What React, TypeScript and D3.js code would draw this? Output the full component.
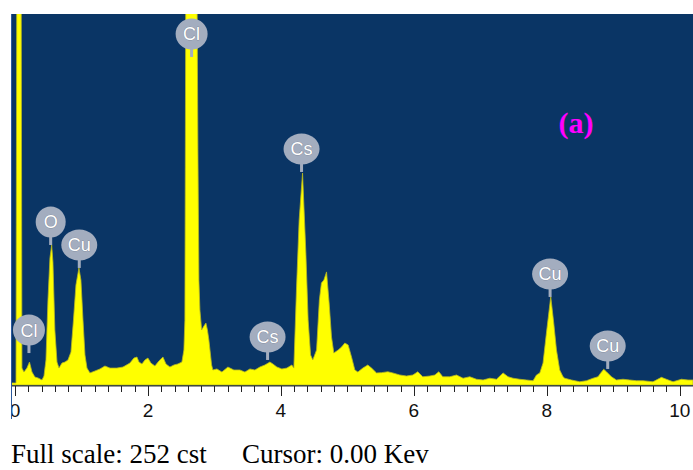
import React from "react";
import * as d3 from "d3";

// Spectrum samples (energy in keV, counts)
const energyKeV = [
  -0.06, 0.015, 0.03, 0.09, 0.105, 0.135, 0.18, 0.218, 0.256, 0.3, 0.346, 0.406, 0.436, 0.466, 0.496, 0.526, 0.552, 0.571, 0.6, 0.632,
  0.662, 0.707, 0.752, 0.797, 0.842, 0.88, 0.917, 0.962, 0.992, 1.023, 1.053, 1.083, 1.128, 1.203, 1.278, 1.353, 1.429, 1.534, 1.624, 1.729,
  1.789, 1.835, 1.865, 1.91, 1.955, 2.0, 2.045, 2.105, 2.165, 2.226, 2.271, 2.331, 2.391, 2.451, 2.511, 2.541, 2.556, 2.571, 2.6, 2.662,
  2.722, 2.737, 2.752, 2.767, 2.782, 2.808, 2.842, 2.872, 2.895, 2.917, 2.958, 2.977, 3.038, 3.113, 3.203, 3.293, 3.383, 3.459, 3.534, 3.609,
  3.684, 3.759, 3.835, 3.88, 3.94, 4.015, 4.09, 4.165, 4.195, 4.236, 4.275, 4.326, 4.376, 4.41, 4.447, 4.48, 4.537, 4.579, 4.61, 4.647,
  4.687, 4.726, 4.762, 4.797, 4.862, 4.913, 4.962, 5.012, 5.063, 5.113, 5.158, 5.233, 5.308, 5.364, 5.439, 5.514, 5.609, 5.684, 5.789, 5.89,
  5.985, 6.06, 6.135, 6.241, 6.316, 6.376, 6.436, 6.541, 6.642, 6.741, 6.842, 6.943, 7.042, 7.143, 7.244, 7.343, 7.418, 7.493, 7.594, 7.695,
  7.794, 7.845, 7.895, 7.944, 7.995, 8.06, 8.105, 8.146, 8.195, 8.245, 8.271, 8.371, 8.496, 8.597, 8.696, 8.771, 8.812, 8.857, 8.898, 8.973,
  9.048, 9.147, 9.248, 9.349, 9.448, 9.598, 9.725, 9.8, 9.9, 10.026, 10.125, 10.2,
];
const counts = [
  1.4, 1.4, 350, 350, 11.5, 8.8, 11.5, 15.6, 8.8, 5.4, 4.8, 3.4, 6.1, 17, 57.7, 86.3, 95.1, 83.6, 37.4, 15.6,
  11.5, 14.9, 15.6, 17, 22.4, 44.2, 67.9, 79.5, 71.3, 44.2, 20.4, 11.5, 8.2, 9.5, 10.9, 12.9, 11.5, 11.5, 12.2, 14.9,
  18.3, 19, 15.6, 14.3, 17, 18.3, 14.9, 12.9, 16.3, 19, 14.3, 12.2, 13.6, 14.3, 15.6, 23.8, 44, 300, 400, 420,
  380, 280, 160, 71, 51, 37.4, 40, 42.1, 37.4, 30.6, 13.6, 10.2, 10.9, 8.8, 12.2, 10.2, 10.2, 8.8, 10.9, 10.2,
  12.2, 13.6, 15.6, 14.3, 12.2, 10.9, 11.5, 13.6, 11.5, 66.6, 112, 144, 89.7, 44.2, 20.4, 17, 23.8, 57.7, 69.3, 71.3,
  76.8, 55.7, 32.6, 21.7, 23.8, 25.8, 28.5, 27.2, 19, 10.2, 8.8, 11.5, 13.6, 11.5, 8.2, 8.4, 9, 8.2, 6.8, 6.1,
  6.8, 9, 5.6, 6.1, 6.8, 9, 5.6, 5.6, 6.8, 4.6, 5.6, 3.9, 3.4, 4.6, 3.9, 8.2, 5.6, 4.6, 3.9, 3.4,
  2.9, 6.8, 8.2, 14.9, 35.3, 60, 42.1, 23.8, 10.2, 5.6, 4.6, 3.4, 2.2, 2.9, 4.6, 5.6, 8.2, 10.7, 9, 5.6,
  3.4, 3.9, 3.4, 2.9, 2.9, 2.2, 5.2, 3.9, 2.2, 3.9, 3.4, 3.4,
];

// Element markers
const markerLabels = ["Cl", "O", "Cu", "Cl", "Cs", "Cs", "Cu", "Cu"];
const markerEnergy = [2.657, 0.537, 0.967, 0.21, 4.311, 3.8, 8.05, 8.917];
const markerCounts = [222.8, 95.1, 79.5, 21.7, 144.7, 17, 59.8, 10.9];

const tickLabels = [0, 2, 4, 6, 8, 10];
const minorStep = 0.2;
const fullScale = 252;

const W = 693;
const H = 470;
const left = 11;
const right = 693;
const top = 14;
const base = 385;

export default function App() {
  const x = d3.scaleLinear().domain([-0.06, 10.2]).range([left, right]);
  const y = d3.scaleLinear().domain([0, fullScale]).range([base, top]);

  const data = energyKeV.map((e, i) => ({ e, c: counts[i] }));
  const area = d3
    .area<{ e: number; c: number }>()
    .x((d) => x(d.e))
    .y0(y(0))
    .y1((d) => y(d.c))
    .curve(d3.curveLinear);

  const minorTicks = d3.range(0, 10.2 + 1e-6, minorStep);

  const badgeColor = "#a3adbf";

  return (
    <svg
      width={W}
      height={H}
      style={{ position: "absolute", left: 0, top: 0, background: "#fff" }}
    >
      <defs>
        <clipPath id="plotClip">
          <rect x={left} y={top} width={right - left} height={base - top + 1} />
        </clipPath>
        <clipPath id="labelClip">
          <rect x={12} y={0} width={W - 12} height={H} />
        </clipPath>
      </defs>
      <rect x={left} y={top} width={right - left} height={base - top + 1} fill="#0a3565" />
      <g clipPath="url(#plotClip)">
        <path d={area(data) || ""} fill="#ffff00" stroke="#b8b820" strokeWidth={0.8} />
      </g>
      {/* axis line */}
      <line x1={left} x2={right} y1={base + 1} y2={base + 1} stroke="#333" strokeWidth={1} />
      {minorTicks.map((t, i) => {
        const major = tickLabels.some((m) => Math.abs(m - t) < 1e-6);
        const xx = Math.round(x(t)) + 0.5;
        return (
          <line key={i} x1={xx} x2={xx} y1={base + 1} y2={base + (major ? 11 : 7)} stroke="#222" strokeWidth={1} />
        );
      })}
      <g clipPath="url(#labelClip)">
        {tickLabels.map((t) => (
          <text
            key={t}
            x={x(t)}
            y={417}
            textAnchor="middle"
            fontFamily="'Liberation Sans', Arial, sans-serif"
            fontSize={19}
            fill="#111"
          >
            {t}
          </text>
        ))}
      </g>
      <line x1={11.5} x2={11.5} y1={top} y2={419} stroke="#2b5a9e" strokeWidth={1} />

      {/* element markers */}
      {markerLabels.map((lab, i) => {
        const cx = x(markerEnergy[i]);
        const tip = y(markerCounts[i]);
        const cy = tip - 23;
        const rx = lab.length === 1 ? 15 : lab === "Cl" ? 16 : 18;
        const ry = 15.5;
        return (
          <g key={i}>
            <rect x={cx - 1.5} y={cy + ry - 2} width={3} height={tip - (cy + ry - 2)} fill={badgeColor} />
            <ellipse cx={cx} cy={cy} rx={rx} ry={ry} fill={badgeColor} />
            <text
              x={cx}
              y={cy + 6.5}
              textAnchor="middle"
              fontFamily="'Liberation Sans', Arial, sans-serif"
              fontSize={18}
              fill="#ffffff"
              stroke="#6f7888"
              strokeWidth={0.6}
              style={{ paintOrder: "stroke" }}
            >
              {lab}
            </text>
          </g>
        );
      })}

      <text
        x={576}
        y={133}
        textAnchor="middle"
        fontFamily="'Liberation Serif', 'Times New Roman', serif"
        fontWeight="bold"
        fontSize={30}
        fill="#ff00ff"
      >
        (a)
      </text>

      <text x={11} y={463} fontFamily="'Liberation Serif', 'Times New Roman', serif" fontSize={27} fill="#000">
        {`Full scale: ${fullScale} cst`}
      </text>
      <text x={242} y={463} fontFamily="'Liberation Serif', 'Times New Roman', serif" fontSize={27} fill="#000">
        Cursor: 0.00 Kev
      </text>
    </svg>
  );
}
